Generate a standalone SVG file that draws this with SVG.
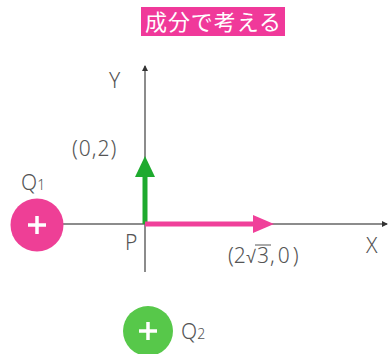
<svg xmlns="http://www.w3.org/2000/svg" width="388" height="354" viewBox="0 0 388 354">
<style>
.lbl{font-family:"Noto Sans","Liberation Sans",sans-serif;font-size:21px;fill:#555;font-weight:300}
.axis{stroke:#666;stroke-width:1.5;fill:none}
.plus{stroke:#fff;stroke-width:3.5;stroke-linecap:butt}
</style>
<defs>
<marker id="ah" viewBox="0 0 6 6" refX="5" refY="3" markerWidth="6" markerHeight="6" markerUnits="userSpaceOnUse" orient="auto"><path d="M0,0 L6,3 L0,6 z" fill="#333"/></marker>
</defs>
<rect width="388" height="354" fill="#fff"/>
<g id="title">
<rect x="141" y="7" width="144" height="29" fill="#f0399a"/>
<text x="213" y="30" text-anchor="middle" font-family="Noto Sans CJK JP,sans-serif" font-size="22" fill="#fff" textLength="136">成分で考える</text>
</g>
<g id="connectors">
<line class="axis" x1="63" y1="224" x2="387" y2="224" marker-end="url(#ah)"/>
<line class="axis" x1="145" y1="272" x2="145" y2="66" marker-end="url(#ah)"/>
<line x1="145" y1="224" x2="145" y2="174" stroke="#1eaa2e" stroke-width="5"/>
<polygon points="145,156 135,177 155,177" fill="#1eaa2e"/>
<line x1="145" y1="224" x2="255" y2="224" stroke="#f0409a" stroke-width="5"/>
<polygon points="274,224 253,215 253,233" fill="#f0409a"/>
</g>
<g id="Q1">
<circle cx="37" cy="225" r="26.5" fill="#ee3f96"/>
<line class="plus" x1="28" y1="225" x2="46" y2="225"/>
<line class="plus" x1="37" y1="216" x2="37" y2="234"/>
<text class="lbl" x="21" y="190">Q<tspan font-size="14">1</tspan></text>
</g>
<g id="Q2">
<circle cx="148" cy="331" r="25" fill="#57c84a"/>
<line class="plus" x1="139" y1="331" x2="157" y2="331"/>
<line class="plus" x1="148" y1="322" x2="148" y2="340"/>
<text class="lbl" x="181" y="339">Q<tspan font-size="14">2</tspan></text>
</g>
<g id="labels">
<text class="lbl" x="109" y="88">Y</text>
<text class="lbl" x="72" y="156" letter-spacing="1">(0,2)</text>
<text class="lbl" x="125" y="250">P</text>
<text class="lbl" x="366" y="253">X</text>
<text class="lbl" y="263"><tspan x="228">(2</tspan><tspan x="246" font-size="18">√</tspan><tspan x="257">3</tspan><tspan x="270" letter-spacing="3">,0)</tspan></text>
<line x1="255" y1="245" x2="271" y2="245" stroke="#555" stroke-width="1"/>
</g>
</svg>
